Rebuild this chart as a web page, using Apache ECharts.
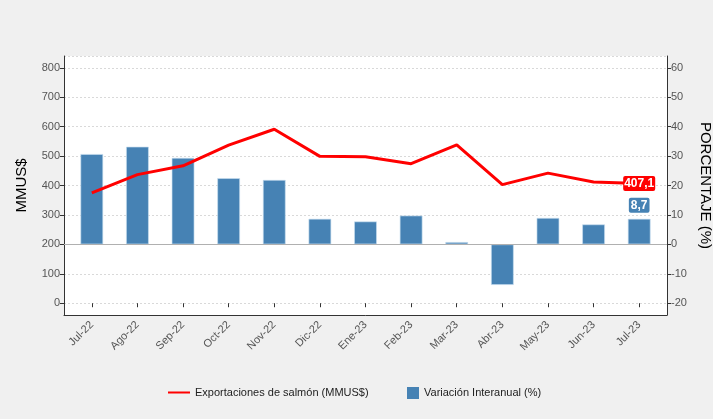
<!DOCTYPE html>
<html>
<head>
<meta charset="utf-8">
<script src="https://cdn.jsdelivr.net/npm/echarts@6/dist/echarts.min.js"></script>
<style>
html,body{margin:0;padding:0;background:#f0f0f0;}
#c{width:713px;height:419px;}
</style>
</head>
<body>
<div id="c"></div>
<script>
const categories = ['Jul-22','Ago-22','Sep-22','Oct-22','Nov-22','Dic-22','Ene-23','Feb-23','Mar-23','Abr-23','May-23','Jun-23','Jul-23'];
const exportaciones = [375, 437, 467, 537, 591, 499, 498, 474, 538, 403, 442, 412, 407.1];
const variacion = [30.7, 33.2, 29.4, 22.5, 21.9, 8.7, 7.8, 9.8, 0.8, -13.8, 9.0, 6.8, 8.7];
const lineName = 'Exportaciones de salmón (MMUS$)';
const barName = 'Variación Interanual (%)';

const fmt = v => String(v).replace('.', ',');
const last = categories.length - 1;

const chart = echarts.init(document.getElementById('c'));
const font = 'Liberation Sans, Arial, sans-serif';
chart.setOption({
  backgroundColor: '#f0f0f0',
  animation: false,
  textStyle: {fontFamily: font},
  grid: [
    {left: 69, right: 51, top: 56, bottom: 104, containLabel: false, outerBoundsMode: 'none'},
    {left: 64, right: 46, top: 56, bottom: 104, show: true, backgroundColor: '#ffffff', borderWidth: 0, z: 0, outerBoundsMode: 'none'}
  ],
  legend: [
    {data: [{name: lineName, icon: 'rect'}], left: 168, top: 387, padding: 0, itemWidth: 22, itemHeight: 2,
     textStyle: {fontSize: 11, color: '#222', fontFamily: font}},
    {data: [barName], left: 407, top: 387, padding: 0, itemWidth: 12, itemHeight: 12, icon: 'rect',
     itemStyle: {borderWidth: 0},
     textStyle: {fontSize: 11, color: '#222', fontFamily: font}}
  ],
  xAxis: [
    {type: 'category', gridIndex: 0, data: categories, boundaryGap: true,
     axisLine: {show: false},
     axisTick: {show: true, alignWithLabel: true, length: 4, lineStyle: {color: '#333'}},
     axisLabel: {rotate: 45, fontSize: 11, color: '#555', margin: 8, fontFamily: font},
     splitLine: {show: false}},
    {type: 'value', gridIndex: 1, min: 0, max: 1,
     axisLine: {show: true, onZero: false, lineStyle: {color: '#333', width: 1}},
     axisTick: {show: false}, axisLabel: {show: false}, splitLine: {show: false}}
  ],
  yAxis: [
    {type: 'value', gridIndex: 0, position: 'left', offset: 5, min: -40, max: 840, splitNumber: 9,
     name: 'MMUS$', nameLocation: 'middle', nameGap: 35,
     nameTextStyle: {fontSize: 15, color: '#000', fontFamily: font},
     axisLine: {show: true, lineStyle: {color: '#333'}},
     axisTick: {show: true, length: 4, lineStyle: {color: '#333'}},
     axisLabel: {fontSize: 11, color: '#555', margin: 4, showMinLabel: false, showMaxLabel: false, fontFamily: font},
     splitLine: {show: false}},
    {type: 'value', gridIndex: 0, position: 'right', offset: 5, min: -24, max: 64, splitNumber: 8,
     name: 'PORCENTAJE (%)', nameLocation: 'middle', nameGap: 27, nameRotate: -90,
     nameTextStyle: {fontSize: 15, color: '#000', fontFamily: font},
     axisLine: {show: true, lineStyle: {color: '#333'}},
     axisTick: {show: true, length: 4, lineStyle: {color: '#333'}},
     axisLabel: {fontSize: 11, color: '#555', margin: 4, showMinLabel: false, showMaxLabel: false, fontFamily: font},
     splitLine: {show: false}},
    {type: 'value', gridIndex: 1, min: -40, max: 840, splitNumber: 9,
     axisLine: {show: false}, axisTick: {show: false}, axisLabel: {show: false},
     splitLine: {show: true, lineStyle: {color: '#d9d9d9', type: [2, 2], width: 1}}}
  ],
  series: [
    {type: 'line', name: '_zero', xAxisIndex: 1, yAxisIndex: 2, data: [], silent: true,
     markLine: {silent: true, symbol: 'none', label: {show: false},
       lineStyle: {color: '#b0b0b0', type: 'solid', width: 1.2},
       data: [{yAxis: 200}]}},
    {type: 'bar', name: barName, xAxisIndex: 0, yAxisIndex: 1, barWidth: '50%',
     itemStyle: {color: '#4682B4', borderColor: 'rgba(200,222,240,0.8)', borderWidth: 0.8},
     data: variacion.map((v, i) => i === last ? {value: v, label: {show: true}} : v),
     label: {show: false, position: 'top', distance: 6, formatter: p => fmt(p.value),
       backgroundColor: '#4682B4', color: '#fff', fontWeight: 'bold', fontSize: 12,
       padding: [2, 2, 1, 2], borderRadius: 2, fontFamily: font},
     z: 2},
    {type: 'line', name: lineName, xAxisIndex: 0, yAxisIndex: 0,
     symbol: 'circle', symbolSize: 0, showSymbol: true,
     lineStyle: {color: '#ff0000', width: 3}, itemStyle: {color: '#ff0000'},
     data: exportaciones.map((v, i) => i === last ? {value: v, label: {show: true}} : v),
     label: {show: false, position: 'inside', formatter: p => fmt(p.value),
       backgroundColor: '#ff0000', color: '#fff', fontWeight: 'bold', fontSize: 12,
       padding: [2, 1, 1, 1], borderRadius: 2, fontFamily: font},
     z: 3}
  ]
});
</script>
</body>
</html>
